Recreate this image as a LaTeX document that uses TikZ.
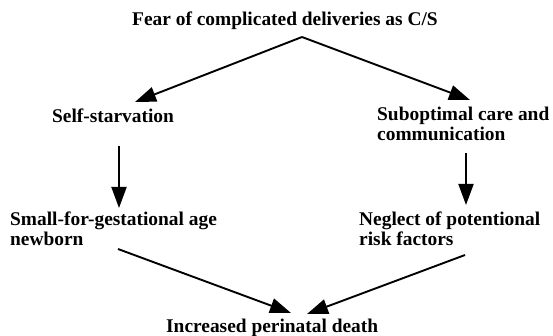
\documentclass[tikz,border=0pt]{standalone}
\usepackage{fontspec}
\setmainfont{Liberation Serif}
\usetikzlibrary{arrows.meta}
\begin{document}
\begin{tikzpicture}[x=1pt,y=-1pt,
  lbl/.style={inner sep=0pt, anchor=base west, font=\fontsize{19.4}{20}\selectfont\bfseries, align=left},
  arr/.style={line width=1.9pt, -{Triangle[length=21pt,width=15pt]}}]
\useasboundingbox (0,0) rectangle (553,336);
% texts (base anchor = baseline of the last line)
\node[lbl] (fear) at (132,26) {Fear of complicated deliveries as C/S};
\node[lbl] (self) at (52,123) {Self-starvation};
\node[lbl] (subopt) at (377,141) {Suboptimal care and\\communication};
\node[lbl] (sga) at (10,246) {Small-for-gestational age\\newborn};
\node[lbl] (neglect) at (359,245) {Neglect of potentional\\risk factors};
\node[lbl] (death) at (166,332) {Increased perinatal death};
% connector end points
\coordinate (apex) at (302,37);
\coordinate (selfIn) at (135,102);
\coordinate (subIn) at (470,100);
\coordinate (selfOut) at (119,146);
\coordinate (sgaIn) at (119,208);
\coordinate (subOut) at (466,153);
\coordinate (negIn) at (466,205);
\coordinate (sgaOut) at (118,249);
\coordinate (negOut) at (465,255);
\coordinate (deathL) at (291,313);
\coordinate (deathR) at (307,314);
% connectors
\draw[arr] (apex) -- (selfIn);
\draw[arr] (apex) -- (subIn);
\draw[arr] (selfOut) -- (sgaIn);
\draw[arr] (subOut) -- (negIn);
\draw[arr] (sgaOut) -- (deathL);
\draw[arr] (negOut) -- (deathR);
\end{tikzpicture}
\end{document}
